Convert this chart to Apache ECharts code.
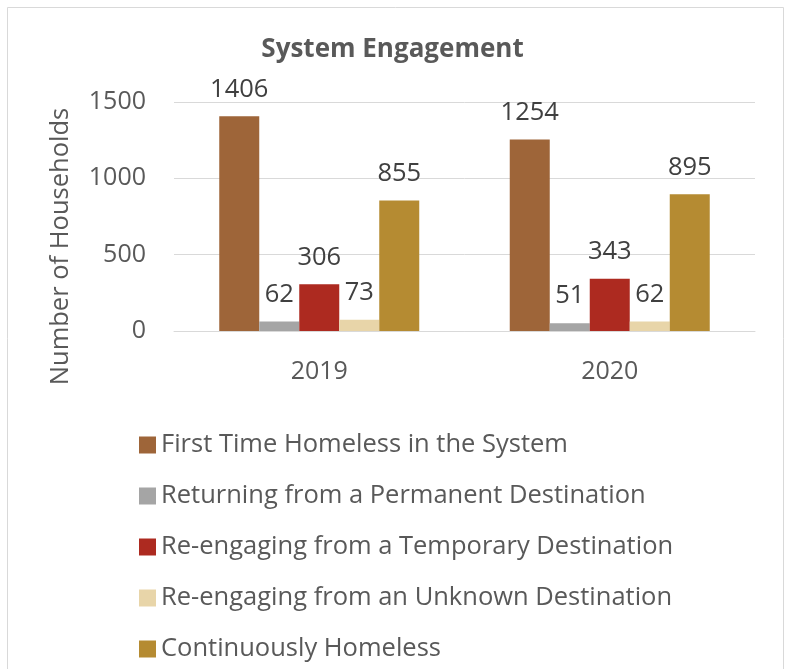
<!DOCTYPE html>
<html>
<head>
<meta charset="utf-8">
<script src="https://cdn.jsdelivr.net/npm/echarts@6/dist/echarts.min.js"></script>
<style>
html,body{margin:0;padding:0;background:#fff;}
#main{width:785px;height:669px;}
</style>
</head>
<body>
<div id="main"></div>
<script>
const categories = ['2019', '2020'];
const firstTime = [1406, 1254];
const returningPermanent = [62, 51];
const reengagingTemporary = [306, 343];
const reengagingUnknown = [73, 62];
const continuouslyHomeless = [855, 895];
const seriesNames = [
  'First Time Homeless in the System',
  'Returning from a Permanent Destination',
  'Re-engaging from a Temporary Destination',
  'Re-engaging from an Unknown Destination',
  'Continuously Homeless'
];
const yTicks = [0, 500, 1000, 1500];

const colors = ['#9E6539', '#A5A5A5', '#AD2A20', '#E8D5A9', '#B58B32'];
const values = [firstTime, returningPermanent, reengagingTemporary, reengagingUnknown, continuouslyHomeless];
const FONT = '"Open Sans", sans-serif';

const chart = echarts.init(document.getElementById('main'), null, {renderer: 'canvas'});
chart.setOption({
  animation: false,
  backgroundColor: '#fff',
  graphic: [{
    type: 'rect',
    shape: {x: 7.5, y: 7.5, width: 776, height: 700},
    style: {fill: 'none', stroke: '#D9D9D9', lineWidth: 1}
  }],
  title: {
    text: 'System Engagement',
    left: 'center',
    top: 32,
    textStyle: {fontFamily: FONT, fontWeight: 'bold', fontSize: 26, color: '#595959'}
  },
  grid: {left: 174, right: 30, top: 102, bottom: 338, containLabel: false},
  legend: {
    orient: 'vertical',
    left: 134,
    top: 427,
    itemWidth: 17,
    itemHeight: 17,
    itemGap: 25,
    icon: 'rect',
    textStyle: {fontFamily: FONT, fontSize: 25.5, color: '#595959', lineHeight: 26},
    data: seriesNames
  },
  xAxis: {
    type: 'category',
    data: categories,
    axisLine: {lineStyle: {color: '#D9D9D9', width: 1}},
    axisTick: {show: false},
    axisLabel: {fontFamily: FONT, fontSize: 25, color: '#595959', margin: 28}
  },
  yAxis: {
    type: 'value',
    min: yTicks[0],
    max: yTicks[yTicks.length - 1],
    interval: 500,
    name: 'Number of Households',
    nameLocation: 'middle',
    nameGap: 100,
    nameTextStyle: {fontFamily: FONT, fontSize: 25.5, color: '#595959', padding: [0, 60, 0, 0]},
    axisLine: {show: false},
    axisTick: {show: false},
    splitLine: {lineStyle: {color: '#D9D9D9', width: 1}},
    axisLabel: {fontFamily: FONT, fontSize: 25, color: '#595959', margin: 28, formatter: v => String(v)}
  },
  series: seriesNames.map((name, i) => ({
    name: name,
    type: 'bar',
    data: values[i],
    barWidth: 40,
    barGap: '0%',
    itemStyle: {color: colors[i]},
    label: {
      show: true,
      position: 'top',
      distance: 14,
      fontFamily: FONT,
      fontSize: 25.5,
      color: '#404040'
    }
  }))
});
</script>
</body>
</html>
